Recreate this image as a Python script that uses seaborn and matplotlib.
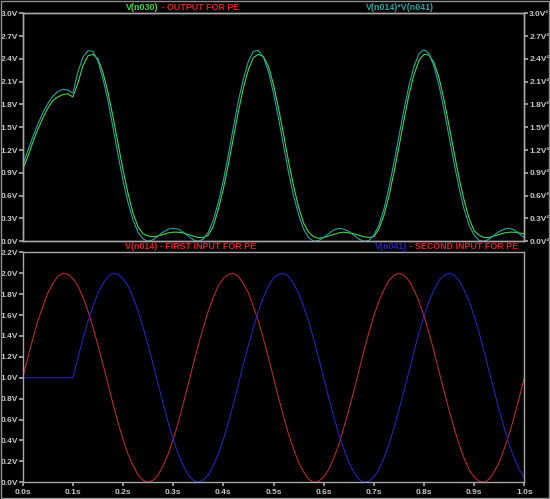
import numpy as np
import pandas as pd
import matplotlib
matplotlib.use('Agg')
import matplotlib.pyplot as plt
import seaborn as sns
from matplotlib.patches import Rectangle

# sample times (s), 0.01 s step
t = np.linspace(0.0, 1.0, 101)

# V(n014) - first input
v_n014 = [1.00, 1.19, 1.37, 1.54, 1.68, 1.81, 1.90, 1.97, 2.00, 1.99,
          1.95, 1.88, 1.77, 1.64, 1.48, 1.31, 1.13, 0.94, 0.75, 0.57,
          0.41, 0.27, 0.16, 0.07, 0.02, 0.00, 0.02, 0.07, 0.16, 0.27,
          0.41, 0.57, 0.75, 0.94, 1.13, 1.31, 1.48, 1.64, 1.77, 1.88,
          1.95, 1.99, 2.00, 1.97, 1.90, 1.81, 1.68, 1.54, 1.37, 1.19,
          1.00, 0.81, 0.63, 0.46, 0.32, 0.19, 0.10, 0.03, 0.00, 0.01,
          0.05, 0.12, 0.23, 0.36, 0.52, 0.69, 0.87, 1.06, 1.25, 1.43,
          1.59, 1.73, 1.84, 1.93, 1.98, 2.00, 1.98, 1.93, 1.84, 1.73,
          1.59, 1.43, 1.25, 1.06, 0.87, 0.69, 0.52, 0.36, 0.23, 0.12,
          0.05, 0.01, 0.00, 0.03, 0.10, 0.19, 0.32, 0.46, 0.63, 0.81,
          1.00]

# V(n041) - second input
v_n041 = [1.00, 1.00, 1.00, 1.00, 1.00, 1.00, 1.00, 1.00, 1.00, 1.00,
          1.00, 1.19, 1.37, 1.54, 1.68, 1.81, 1.90, 1.97, 2.00, 1.99,
          1.95, 1.88, 1.77, 1.64, 1.48, 1.31, 1.13, 0.94, 0.75, 0.57,
          0.41, 0.27, 0.16, 0.07, 0.02, 0.00, 0.02, 0.07, 0.16, 0.27,
          0.41, 0.57, 0.75, 0.94, 1.13, 1.31, 1.48, 1.64, 1.77, 1.88,
          1.95, 1.99, 2.00, 1.97, 1.90, 1.81, 1.68, 1.54, 1.37, 1.19,
          1.00, 0.81, 0.63, 0.46, 0.32, 0.19, 0.10, 0.03, 0.00, 0.01,
          0.05, 0.12, 0.23, 0.36, 0.52, 0.69, 0.87, 1.06, 1.25, 1.43,
          1.59, 1.73, 1.84, 1.93, 1.98, 2.00, 1.98, 1.93, 1.84, 1.73,
          1.59, 1.43, 1.25, 1.06, 0.87, 0.69, 0.52, 0.36, 0.23, 0.12,
          0.05]

# V(n014)*V(n041)
v_prod = [1.00, 1.19, 1.37, 1.54, 1.69, 1.81, 1.91, 1.97, 2.00, 1.99,
          1.95, 2.23, 2.42, 2.51, 2.50, 2.37, 2.14, 1.85, 1.50, 1.14,
          0.80, 0.51, 0.28, 0.12, 0.03, 0.00, 0.02, 0.07, 0.12, 0.16,
          0.17, 0.16, 0.12, 0.07, 0.02, 0.00, 0.03, 0.12, 0.28, 0.51,
          0.80, 1.14, 1.50, 1.85, 2.14, 2.37, 2.50, 2.51, 2.42, 2.23,
          1.95, 1.62, 1.26, 0.91, 0.60, 0.35, 0.16, 0.05, 0.00, 0.01,
          0.05, 0.10, 0.15, 0.17, 0.16, 0.13, 0.08, 0.03, 0.00, 0.01,
          0.08, 0.21, 0.42, 0.70, 1.03, 1.38, 1.73, 2.05, 2.30, 2.47,
          2.52, 2.47, 2.30, 2.05, 1.73, 1.38, 1.03, 0.70, 0.42, 0.21,
          0.08, 0.01, 0.00, 0.03, 0.08, 0.13, 0.16, 0.17, 0.15, 0.10,
          0.05]

# V(n030) - output for PE
v_n030 = [0.95, 1.11, 1.30, 1.47, 1.62, 1.75, 1.85, 1.90, 1.93, 1.94,
          1.90, 2.08, 2.31, 2.44, 2.46, 2.40, 2.22, 1.96, 1.64, 1.29,
          0.94, 0.63, 0.37, 0.19, 0.10, 0.07, 0.06, 0.07, 0.09, 0.11,
          0.12, 0.12, 0.11, 0.09, 0.07, 0.05, 0.05, 0.08, 0.20, 0.42,
          0.69, 1.01, 1.36, 1.71, 2.02, 2.26, 2.42, 2.46, 2.43, 2.30,
          2.06, 1.75, 1.41, 1.05, 0.73, 0.45, 0.24, 0.12, 0.06, 0.04,
          0.05, 0.07, 0.09, 0.11, 0.12, 0.11, 0.10, 0.08, 0.06, 0.05,
          0.06, 0.16, 0.34, 0.59, 0.90, 1.24, 1.59, 1.93, 2.19, 2.38,
          2.46, 2.45, 2.35, 2.15, 1.86, 1.52, 1.17, 0.83, 0.54, 0.30,
          0.14, 0.08, 0.05, 0.05, 0.07, 0.09, 0.11, 0.12, 0.12, 0.11,
          0.10]

x_ticks = [0.0, 0.1, 0.2, 0.3, 0.4, 0.5, 0.6, 0.7, 0.8, 0.9, 1.0]
x_tick_labels = ['0.0s', '0.1s', '0.2s', '0.3s', '0.4s', '0.5s', '0.6s', '0.7s', '0.8s', '0.9s', '1.0s']
top_ticks = [0.0, 0.3, 0.6, 0.9, 1.2, 1.5, 1.8, 2.1, 2.4, 2.7, 3.0]
top_left_labels = ['0.0V', '0.3V', '0.6V', '0.9V', '1.2V', '1.5V', '1.8V', '2.1V', '2.4V', '2.7V', '3.0V']
top_right_labels = ['0.0V²', '0.3V²', '0.6V²', '0.9V²', '1.2V²', '1.5V²', '1.8V²', '2.1V²', '2.4V²', '2.7V²', '3.0V²']
bot_ticks = [0.0, 0.2, 0.4, 0.6, 0.8, 1.0, 1.2, 1.4, 1.6, 1.8, 2.0, 2.2]
bot_labels = ['0.0V', '0.2V', '0.4V', '0.6V', '0.8V', '1.0V', '1.2V', '1.4V', '1.6V', '1.8V', '2.0V', '2.2V']

GREEN = '#45d645'
CYAN = '#27a3a3'
RED = '#b52a2a'
BLUE = '#2424b8'
TITLE_RED = '#e02222'
GRAY = '#a8a8a8'
TXT = '#c8c8c8'

sns.set_theme(style='ticks', rc={
    'figure.facecolor': 'black', 'axes.facecolor': 'black',
    'axes.edgecolor': GRAY, 'axes.linewidth': 1.0,
    'xtick.color': GRAY, 'ytick.color': GRAY,
    'xtick.labelcolor': TXT, 'ytick.labelcolor': TXT,
    'xtick.major.size': 3.0, 'ytick.major.size': 3.0,
    'xtick.major.pad': 2, 'ytick.major.pad': 0.5,
})
plt.rcParams['font.family'] = ['Liberation Sans', 'DejaVu Sans']
TICK_FONT = {'size': 6.0, 'weight': 'bold'}
TITLE_SIZE = 6.4

df = pd.DataFrame({'t': t, 'v_n014': v_n014, 'v_n041': v_n041,
                   'v_prod': v_prod, 'v_n030': v_n030})

W, H = 550, 499
fig = plt.figure(figsize=(W / 100, H / 100), dpi=100)

ax1 = fig.add_axes([22.7 / W, 1 - 241.3 / H, (524.3 - 22.7) / W, (241.3 - 13.3) / H])
ax2 = fig.add_axes([22.7 / W, 1 - 482.3 / H, (524.3 - 22.7) / W, (482.3 - 252.3) / H])

sns.lineplot(data=df, x='t', y='v_n030', color=GREEN, lw=0.8, ax=ax1)
sns.lineplot(data=df, x='t', y='v_prod', color=CYAN, lw=0.8, ax=ax1)
sns.lineplot(data=df, x='t', y='v_n014', color=RED, lw=0.8, ax=ax2)
sns.lineplot(data=df, x='t', y='v_n041', color=BLUE, lw=0.8, ax=ax2)

for ax in (ax1, ax2):
    ax.set_xlim(0, 1.0)
    ax.set_xlabel('')
    ax.set_ylabel('')
    for s in ax.spines.values():
        s.set_visible(True)
        s.set_color(GRAY)

ax1.set_ylim(0, 3.0)
ax1.set_yticks(top_ticks, top_left_labels, fontdict=TICK_FONT)
ax1.set_xticks(x_ticks)
ax1.tick_params(axis='x', length=0, labelbottom=False)
axr = ax1.twinx()
axr.set_ylim(0, 3.0)
axr.set_yticks(top_ticks, top_right_labels, fontdict=TICK_FONT)
axr.tick_params(axis='y', colors=GRAY, labelcolor=TXT, length=3.0, pad=0.5)
for s in axr.spines.values():
    s.set_color(GRAY)

ax2.set_ylim(0, 2.2)
ax2.set_yticks(bot_ticks, bot_labels, fontdict=TICK_FONT)
ax2.set_xticks(x_ticks, x_tick_labels, fontdict=TICK_FONT)


# trace titles, centred on the span they take in the reference
def title_parts(x0, x1, y, parts):
    r = fig.canvas.get_renderer()
    texts = [fig.text(0, 1 - y / H, txt, color=col, fontsize=TITLE_SIZE, weight='bold',
                      ha='left', va='center') for txt, col in parts]
    widths = [tt.get_window_extent(renderer=r).width for tt in texts]
    cur = (x0 + x1) / 2 - sum(widths) / 2
    for tt, w in zip(texts, widths):
        tt.set_x(cur / W)
        cur += w


title_parts(133, 232, 7.5, [('V(n030)', GREEN), (' - OUTPUT FOR PE', TITLE_RED)])
title_parts(372, 427, 7.5, [('V(n014)*V(n041)', CYAN)])
title_parts(135, 247, 247, [('V(n014) - FIRST INPUT FOR PE', TITLE_RED)])
title_parts(385, 508, 247, [('V(n041)', BLUE), (' - SECOND INPUT FOR PE', TITLE_RED)])

fig.patches.append(Rectangle((0.002, 0.002), 0.996, 0.996, transform=fig.transFigure,
                             fill=False, edgecolor='#909090', lw=1.0))

plt.savefig('out.png', dpi=100, facecolor='black')
